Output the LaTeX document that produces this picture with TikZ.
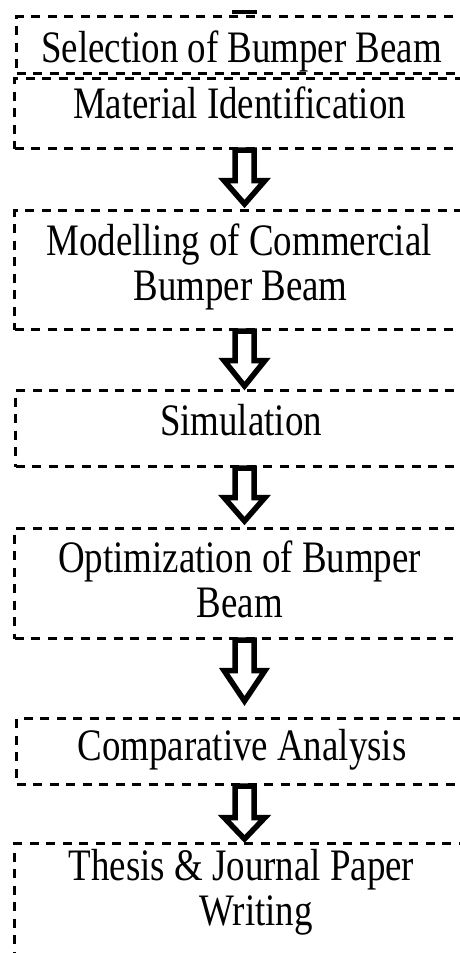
\documentclass[tikz,border=0pt]{standalone}
\usepackage{fontspec}
\usetikzlibrary{calc}
% Times-like serif, slightly condensed
\newfontfamily\boxfont[FakeStretch=0.82]{Liberation Serif}

\tikzset{
  stagebox/.style={draw=black, line width=3pt, dash pattern=on 9pt off 7.5pt,
    rectangle, anchor=north west, minimum width=470pt, inner sep=0pt},
  lbl/.style={anchor=base, inner sep=0pt, font=\boxfont\fontsize{45}{45}\selectfont},
  hollow/.style={draw=black, fill=white, line width=5.5pt, line join=miter}
}

% hollow block arrow: #1 source box, #2 target box, #3 shaft length, #4 gap above target
\newcommand\flowarrow[4]{%
  \path (col |- #1.south) coordinate (s) ($(col |- #2.north)+(0,-#4)$) coordinate (e);
  \draw[hollow] ($(s)+(-9.5,0)$) -- ($(s)+(-9.5,#3)$) -- ($(s)+(-20.5,#3)$) -- (e)
    -- ($(s)+(20.5,#3)$) -- ($(s)+(9.5,#3)$) -- ($(s)+(9.5,0)$) -- cycle;
}

\begin{document}
\begin{tikzpicture}[x=1pt,y=-1pt]
\useasboundingbox (0,0) rectangle (460,953);
\fill[white] (0,0) rectangle (460,953);
\clip (0,0) rectangle (460,953);

\coordinate (col) at (244.5,0);

% stage boxes
\node[stagebox, minimum height=57pt]  (b1) at (15,15)  {};
\node[stagebox, minimum height=70pt]  (b2) at (13,77)  {};
\node[stagebox, minimum height=119pt] (b3) at (13,209) {};
\node[stagebox, minimum height=76pt]  (b4) at (14,389) {};
\node[stagebox, minimum height=110pt] (b5) at (13,527) {};
\node[stagebox, minimum height=66pt]  (b6) at (15,717) {};
\node[stagebox, minimum height=140pt] (b7) at (13,842) {};

% tail of the incoming arrow at the top
\coordinate (tailL) at (232,12);
\coordinate (tailR) at (257,12);
\draw[line width=4.5pt] (tailL) -- (tailR);

% labels
\node[lbl] (t1)  at (241.5,62)  {Selection of Bumper Beam};
\node[lbl] (t2)  at (239.5,118) {Material Identification};
\node[lbl] (t3a) at (239,255)   {Modelling of Commercial};
\node[lbl] (t3b) at (240.5,300) {Bumper Beam};
\node[lbl] (t4)  at (241,435)   {Simulation};
\node[lbl] (t5a) at (239.5,572) {Optimization of Bumper};
\node[lbl] (t5b) at (240,617)   {Beam};
\node[lbl] (t6)  at (242,760)   {Comparative Analysis};
\node[lbl] (t7a) at (241.5,880) {Thesis \& Journal Paper};
\node[lbl] (t7b) at (256,925)   {Writing};

% arrows between stages
\flowarrow{b2}{b3}{30.5}{5}
\flowarrow{b3}{b4}{29.5}{3}
\flowarrow{b4}{b5}{29.5}{6}
\flowarrow{b5}{b6}{30.5}{16}
\flowarrow{b6}{b7}{31.5}{3}
\end{tikzpicture}
\end{document}
